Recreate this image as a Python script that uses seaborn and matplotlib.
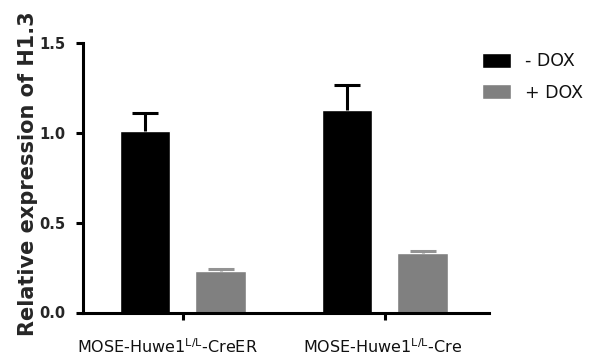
import numpy as np
import pandas as pd
import matplotlib
matplotlib.use("Agg")
import matplotlib.pyplot as plt
import matplotlib.transforms as mtransforms
import seaborn as sns

# Cell lines, treatment groups and measured expression (mean with SEM)
cell_lines = ["MOSE-Huwe1$^{L/L}$-CreER", "MOSE-Huwe1$^{L/L}$-Cre"]
treatments = ["- DOX", "+ DOX"]
mean_minus_dox = [1.01, 1.13]
mean_plus_dox = [0.232, 0.333]
sem_minus_dox = [0.10, 0.135]
sem_plus_dox = [0.012, 0.012]
y_ticks = [0.0, 0.5, 1.0, 1.5]
y_tick_labels = ["0.0", "0.5", "1.0", "1.5"]
bar_colors = ["#000000", "#808080"]
cap_colors = ["#000000", "#939393"]

df = pd.DataFrame({
    "line": cell_lines * 2,
    "dox": [treatments[0]] * 2 + [treatments[1]] * 2,
    "expr": mean_minus_dox + mean_plus_dox,
})
sems = [sem_minus_dox, sem_plus_dox]
means = [mean_minus_dox, mean_plus_dox]

sns.set_style("ticks")
plt.rcParams["font.family"] = ["DejaVu Sans"]
plt.rcParams["mathtext.default"] = "regular"

W, H = 592, 356
fig = plt.figure(figsize=(W / 100, H / 100), dpi=100)
ax = fig.add_axes([83 / W, 1 - 312.5 / H, 406 / W, 269.2 / H])

sns.barplot(data=df, x="line", y="expr", hue="dox", order=cell_lines,
            hue_order=treatments, palette=bar_colors, saturation=1,
            width=0.75, gap=0.33, errorbar=None, ax=ax, legend=True)

# one-sided (upper) SEM bars on each bar
for cont, m, s, c in zip(ax.containers, means, sems, cap_colors):
    xs = [p.get_x() + p.get_width() / 2 for p in cont.patches]
    eb = ax.errorbar(xs, m, yerr=[np.zeros(len(s)), s], fmt="none", ecolor=c,
                     elinewidth=2.2, capsize=9.7, capthick=2.2, zorder=3)
    # keep only the upper cap
    eb[1][0].remove()

ax.set_xlim(-0.495, 1.515)
ax.set_ylim(0, 1.5)
ax.set_yticks(y_ticks)
ax.set_yticklabels(y_tick_labels, fontsize=10.5, fontweight="bold")
ax.set_xlabel("")
ax.set_ylabel("Relative expression of H1.3", fontsize=15, fontweight="bold")
ax.yaxis.set_label_coords(-0.11, 0.514)

for side in ["top", "right"]:
    ax.spines[side].set_visible(False)
for side in ["left", "bottom"]:
    ax.spines[side].set_linewidth(2.2)
    ax.spines[side].set_color("black")
ax.tick_params(axis="both", width=2.2, length=5, color="black")
ax.tick_params(axis="y", pad=8)
ax.tick_params(axis="x", pad=13, labelsize=11.5)
x_label_shift_px = [-15.5, -2.5]
for lab, dx in zip(ax.get_xticklabels(), x_label_shift_px):
    lab.set_color("#111111")
    lab.set_transform(lab.get_transform() +
                      mtransforms.ScaledTranslation(dx / 100, 0, fig.dpi_scale_trans))

leg = ax.legend(loc="upper left", bbox_to_anchor=(482 / W, 1 - 52 / H),
                bbox_transform=fig.transFigure, frameon=False, fontsize=12.5,
                handlelength=1.65, handleheight=0.95, handletextpad=0.8,
                labelspacing=0.78, borderpad=0, borderaxespad=0)
for t in leg.get_texts():
    t.set_color("#111111")

fig.savefig("out.png", dpi=100)
